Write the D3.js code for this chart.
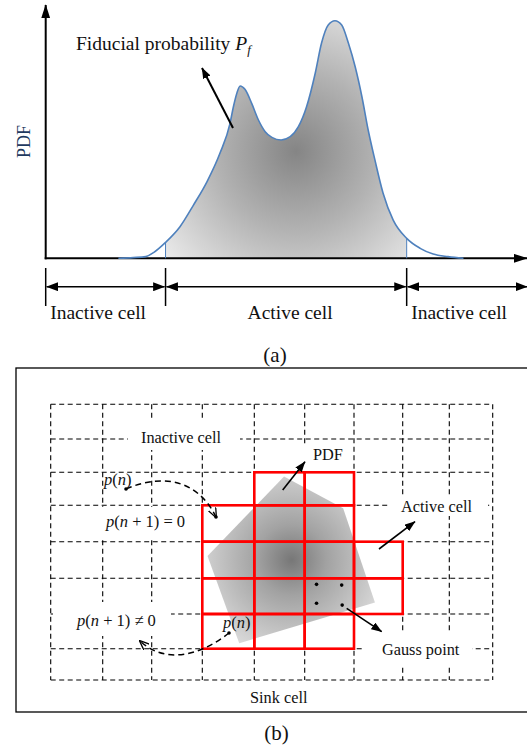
<!DOCTYPE html>
<html>
<head>
<meta charset="utf-8">
<script src="https://cdn.jsdelivr.net/npm/d3@7"></script>
<style>
  body { margin: 0; background: #fff; }
  text { font-family: "Liberation Serif", "Times New Roman", serif; fill: #111; white-space: pre; }
</style>
</head>
<body>
<div id="fig"></div>
<script>
// (a) the PDF curve
// x in arbitrary position units (0 = y axis, 10 = right edge), y normalised to the tall peak
const pdfX = [1.51, 1.82, 2.08, 2.24, 2.49, 2.79, 3.07, 3.35, 3.62, 3.83, 3.90, 3.97, 4.04, 4.14, 4.28, 4.42, 4.56, 4.70, 4.89, 5.08,
  5.25, 5.42, 5.60, 5.73, 5.87, 6.01, 6.15, 6.29, 6.43, 6.57, 6.70, 6.84, 7.01, 7.22, 7.50, 7.78, 8.05, 8.36, 8.68]
const pdfY = [0, 0.003, 0.007, 0.024, 0.067, 0.133, 0.224, 0.322, 0.442, 0.568, 0.638, 0.694, 0.725, 0.711, 0.652, 0.582, 0.533, 0.509, 0.498, 0.512,
  0.554, 0.638, 0.779, 0.905, 0.982, 1.0, 0.982, 0.905, 0.806, 0.680, 0.540, 0.414, 0.274, 0.161, 0.084, 0.042, 0.018, 0.007, 0]
const cutLeft = 2.49
const cutRight = 7.50
const spanLabels = ['Inactive cell', 'Active cell', 'Inactive cell']

// (b) the cell grid, 9 columns x 8 rows
const nCols = 9
const nRows = 8
// active cells as [row, col]
const activeCells = [[2, 4], [2, 5], [3, 3], [3, 4], [3, 5], [4, 3], [4, 4], [4, 5], [4, 6],
  [5, 3], [5, 4], [5, 5], [5, 6], [6, 3], [6, 4], [6, 5]]
// footprint of the PDF in grid units [col, row]
const pdfFootprint = [[4.59, 2.13], [5.78, 3.08], [6.43, 5.68], [3.71, 6.84], [3.10, 4.39]]
const pdfCentre = [4.74, 4.5]
const gaussPoints = [[5.24, 5.17], [5.75, 5.19], [5.24, 5.70], [5.76, 5.75]]

const W = 527, H = 745
const svg = d3.select('#fig').append('svg').attr('width', W).attr('height', H)
const defs = svg.append('defs')

// arrow heads
function addMarker(id, len, wid, open) {
  defs.append('marker')
    .attr('id', id)
    .attr('viewBox', '0 0 10 10')
    .attr('preserveAspectRatio', 'none')
    .attr('refX', open ? 9 : 9.5).attr('refY', 5)
    .attr('markerUnits', 'userSpaceOnUse')
    .attr('markerWidth', len).attr('markerHeight', wid)
    .attr('orient', 'auto-start-reverse')
    .append('path')
    .attr('d', open ? 'M0,0.5 L10,5 L0,9.5' : 'M0,0 L10,5 L0,10 Z')
    .attr('fill', open ? 'none' : '#000')
    .attr('stroke', open ? '#000' : 'none')
    .attr('stroke-width', open ? 1.4 : 0)
}
addMarker('axisHead', 14, 9, false)
addMarker('dimHead', 12, 9, false)
addMarker('noteHead', 11, 8, false)
addMarker('openHead', 10, 9, true)

// ---------- (a) ----------
const x = d3.scaleLinear().domain([0, 10]).range([45.7, 527])
const y = d3.scaleLinear().domain([0, 1]).range([258.3, 20.7])
const pts = pdfX.map((d, i) => [d, pdfY[i]])

const shadeA = defs.append('radialGradient').attr('id', 'shadeA')
  .attr('gradientUnits', 'userSpaceOnUse')
  .attr('cx', x(5.2)).attr('cy', y(0.45)).attr('r', 175)
shadeA.append('stop').attr('offset', 0).attr('stop-color', '#858585')
shadeA.append('stop').attr('offset', 0.45).attr('stop-color', '#b2b2b2')
shadeA.append('stop').attr('offset', 1).attr('stop-color', '#efefef')

defs.append('clipPath').attr('id', 'activeClip')
  .append('rect')
  .attr('x', x(cutLeft)).attr('y', 0)
  .attr('width', x(cutRight) - x(cutLeft)).attr('height', y(0))

const area = d3.area().x(d => x(d[0])).y0(y(0)).y1(d => y(d[1])).curve(d3.curveMonotoneX)
const line = d3.line().x(d => x(d[0])).y(d => y(d[1])).curve(d3.curveMonotoneX)

svg.append('path').datum(pts)
  .attr('d', area)
  .attr('fill', 'url(#shadeA)')
  .attr('clip-path', 'url(#activeClip)')

// axes, no ticks
svg.append('line')
  .attr('x1', x(0)).attr('y1', y(0) + 1).attr('x2', x(0)).attr('y2', 5)
  .attr('stroke', '#000').attr('stroke-width', 2)
  .attr('marker-end', 'url(#axisHead)')
svg.append('line')
  .attr('x1', x(0) - 1).attr('y1', y(0)).attr('x2', x(10)).attr('y2', y(0))
  .attr('stroke', '#000').attr('stroke-width', 2)
  .attr('marker-end', 'url(#axisHead)')

// cut lines
;[cutLeft, cutRight].forEach(c => {
  const i = pdfX.indexOf(c)
  svg.append('line')
    .attr('x1', x(c)).attr('x2', x(c))
    .attr('y1', y(0)).attr('y2', y(pdfY[i]))
    .attr('stroke', '#4f81bd').attr('stroke-width', 1)
})

svg.append('path').datum(pts)
  .attr('d', line)
  .attr('fill', 'none')
  .attr('stroke', '#4f81bd')
  .attr('stroke-width', 1.6)

svg.append('text')
  .attr('transform', 'translate(29.5,141.5) rotate(-90)')
  .attr('text-anchor', 'middle')
  .attr('font-size', 18)
  .style('fill', '#1f3a60')
  .text('PDF')

// spans below the axis
const bounds = [0, cutLeft, cutRight, 10]
bounds.slice(0, 3).forEach(b => {
  svg.append('line')
    .attr('x1', x(b)).attr('x2', x(b))
    .attr('y1', 268).attr('y2', 306)
    .attr('stroke', '#000').attr('stroke-width', 1.5)
})
const dimY = 286.7
spanLabels.forEach((lab, i) => {
  const a = x(bounds[i]), b = x(bounds[i + 1])
  svg.append('line')
    .attr('x1', a + 1).attr('x2', b - (i === 2 ? 0 : 1))
    .attr('y1', dimY).attr('y2', dimY)
    .attr('stroke', '#000').attr('stroke-width', 1.6)
    .attr('marker-start', 'url(#dimHead)')
    .attr('marker-end', 'url(#dimHead)')
  const t = svg.append('text').attr('y', 319).attr('font-size', 19.5).text(lab)
  if (i === 1) t.attr('x', (a + b) / 2 + 4).attr('text-anchor', 'middle')
  else t.attr('x', a + 4.5)
})

// fiducial probability note
const fid = svg.append('text').attr('x', 76).attr('y', 50).attr('font-size', 19.5)
fid.append('tspan').text('Fiducial probability ')
fid.append('tspan').attr('font-style', 'italic').text('P')
fid.append('tspan').attr('font-style', 'italic').attr('font-size', 13).attr('dy', 4).text('f')
svg.append('line')
  .attr('x1', 233).attr('y1', 128).attr('x2', 202).attr('y2', 68)
  .attr('stroke', '#000').attr('stroke-width', 2)
  .attr('marker-end', 'url(#noteHead)')

svg.append('text').attr('x', 275).attr('y', 362).attr('text-anchor', 'middle').attr('font-size', 21).text('(a)')

// ---------- (b) ----------
const gx = d3.scaleLinear().domain(d3.range(nCols + 1))
  .range([50.7, 102.7, 151.7, 202.3, 254.3, 304.7, 354, 402.7, 449.3, 492.7])
const gy = d3.scaleLinear().domain(d3.range(nRows + 1))
  .range([404.3, 439, 472.3, 505.3, 541.7, 578.3, 614, 648.7, 680])

svg.append('rect')
  .attr('x', 16).attr('y', 368).attr('width', 530).attr('height', 344)
  .attr('fill', 'none').attr('stroke', '#000').attr('stroke-width', 1.3)

const grid = svg.append('g')
  .attr('stroke', '#000').attr('stroke-width', 1.1).attr('stroke-dasharray', '5,3.5')
d3.range(nRows + 1).forEach(r => {
  grid.append('line').attr('x1', gx(0)).attr('x2', gx(nCols)).attr('y1', gy(r)).attr('y2', gy(r))
})
d3.range(nCols + 1).forEach(c => {
  grid.append('line').attr('y1', gy(0)).attr('y2', gy(nRows)).attr('x1', gx(c)).attr('x2', gx(c))
})

// white space behind the labels
const masks = [[128, 421, 112, 29], [53, 507, 147, 33], [53, 602, 118, 34], [390, 497, 55, 44],
  [445, 497, 43, 19], [362, 632, 110, 35], [299, 446, 10, 25]]
masks.forEach(m => {
  svg.append('rect').attr('x', m[0]).attr('y', m[1]).attr('width', m[2]).attr('height', m[3]).attr('fill', '#fff')
})

activeCells.forEach(([r, c]) => {
  svg.append('rect')
    .attr('x', gx(c)).attr('y', gy(r))
    .attr('width', gx(c + 1) - gx(c)).attr('height', gy(r + 1) - gy(r))
    .attr('fill', '#fff')
})

const shadeB = defs.append('radialGradient').attr('id', 'shadeB')
  .attr('gradientUnits', 'userSpaceOnUse')
  .attr('cx', gx(pdfCentre[0])).attr('cy', gy(pdfCentre[1])).attr('r', 100)
shadeB.append('stop').attr('offset', 0).attr('stop-color', '#777')
shadeB.append('stop').attr('offset', 0.35).attr('stop-color', '#a2a2a2')
shadeB.append('stop').attr('offset', 1).attr('stop-color', '#dcdcdc')

svg.append('polygon')
  .attr('points', pdfFootprint.map(p => [gx(p[0]), gy(p[1])].join(',')).join(' '))
  .attr('fill', 'url(#shadeB)')

activeCells.forEach(([r, c]) => {
  svg.append('rect')
    .attr('x', gx(c)).attr('y', gy(r))
    .attr('width', gx(c + 1) - gx(c)).attr('height', gy(r + 1) - gy(r))
    .attr('fill', 'none').attr('stroke', '#f00').attr('stroke-width', 2.6)
})

gaussPoints.forEach(p => {
  svg.append('circle').attr('cx', gx(p[0])).attr('cy', gy(p[1])).attr('r', 1.8).attr('fill', '#000')
})

// notes
const notes = [
  [282.7, 490, 305, 461.7],
  [379, 549, 415, 521.7],
  [346.7, 608.3, 381.7, 631.7]
]
notes.forEach(n => {
  svg.append('line')
    .attr('x1', n[0]).attr('y1', n[1]).attr('x2', n[2]).attr('y2', n[3])
    .attr('stroke', '#000').attr('stroke-width', 1.6)
    .attr('marker-end', 'url(#noteHead)')
})

// jumps of the sink cell probability
const jumps = [
  { d: 'M126,489 C160,474 197,478 216,517', dots: [[126, 489], [216, 517]] },
  { d: 'M229,633 C205,652 168,667 140,641', dots: [[229, 633]] }
]
jumps.forEach(j => {
  svg.append('path').attr('d', j.d)
    .attr('fill', 'none').attr('stroke', '#000').attr('stroke-width', 1.5)
    .attr('stroke-dasharray', '6,4')
    .attr('marker-end', 'url(#openHead)')
  j.dots.forEach(p => svg.append('circle').attr('cx', p[0]).attr('cy', p[1]).attr('r', 1.8).attr('fill', '#000'))
})

function mathText(px, py, parts) {
  const t = svg.append('text').attr('x', px).attr('y', py).attr('font-size', 16.5)
  parts.forEach(p => t.append('tspan').attr('font-style', p[1] ? 'italic' : 'normal').text(p[0]))
}
mathText(104, 485, [['p', 1], ['(', 0], ['n', 1], [')', 0]])
mathText(106, 527, [['p', 1], ['(', 0], ['n', 1], [' + 1) = 0', 0]])
mathText(77, 626, [['p', 1], ['(', 0], ['n', 1], [' + 1) \u2260 0', 0]])
mathText(223, 628, [['p', 1], ['(', 0], ['n', 1], [')', 0]])

const labels = [
  ['Inactive cell', 141, 443],
  ['PDF', 313, 460],
  ['Active cell', 401, 512],
  ['Gauss point', 382, 655],
  ['Sink cell', 250, 703]
]
labels.forEach(l => {
  svg.append('text').attr('x', l[1]).attr('y', l[2]).attr('font-size', 16.3).text(l[0])
})

svg.append('text').attr('x', 276.5).attr('y', 740).attr('text-anchor', 'middle').attr('font-size', 21).text('(b)')
</script>
</body>
</html>
